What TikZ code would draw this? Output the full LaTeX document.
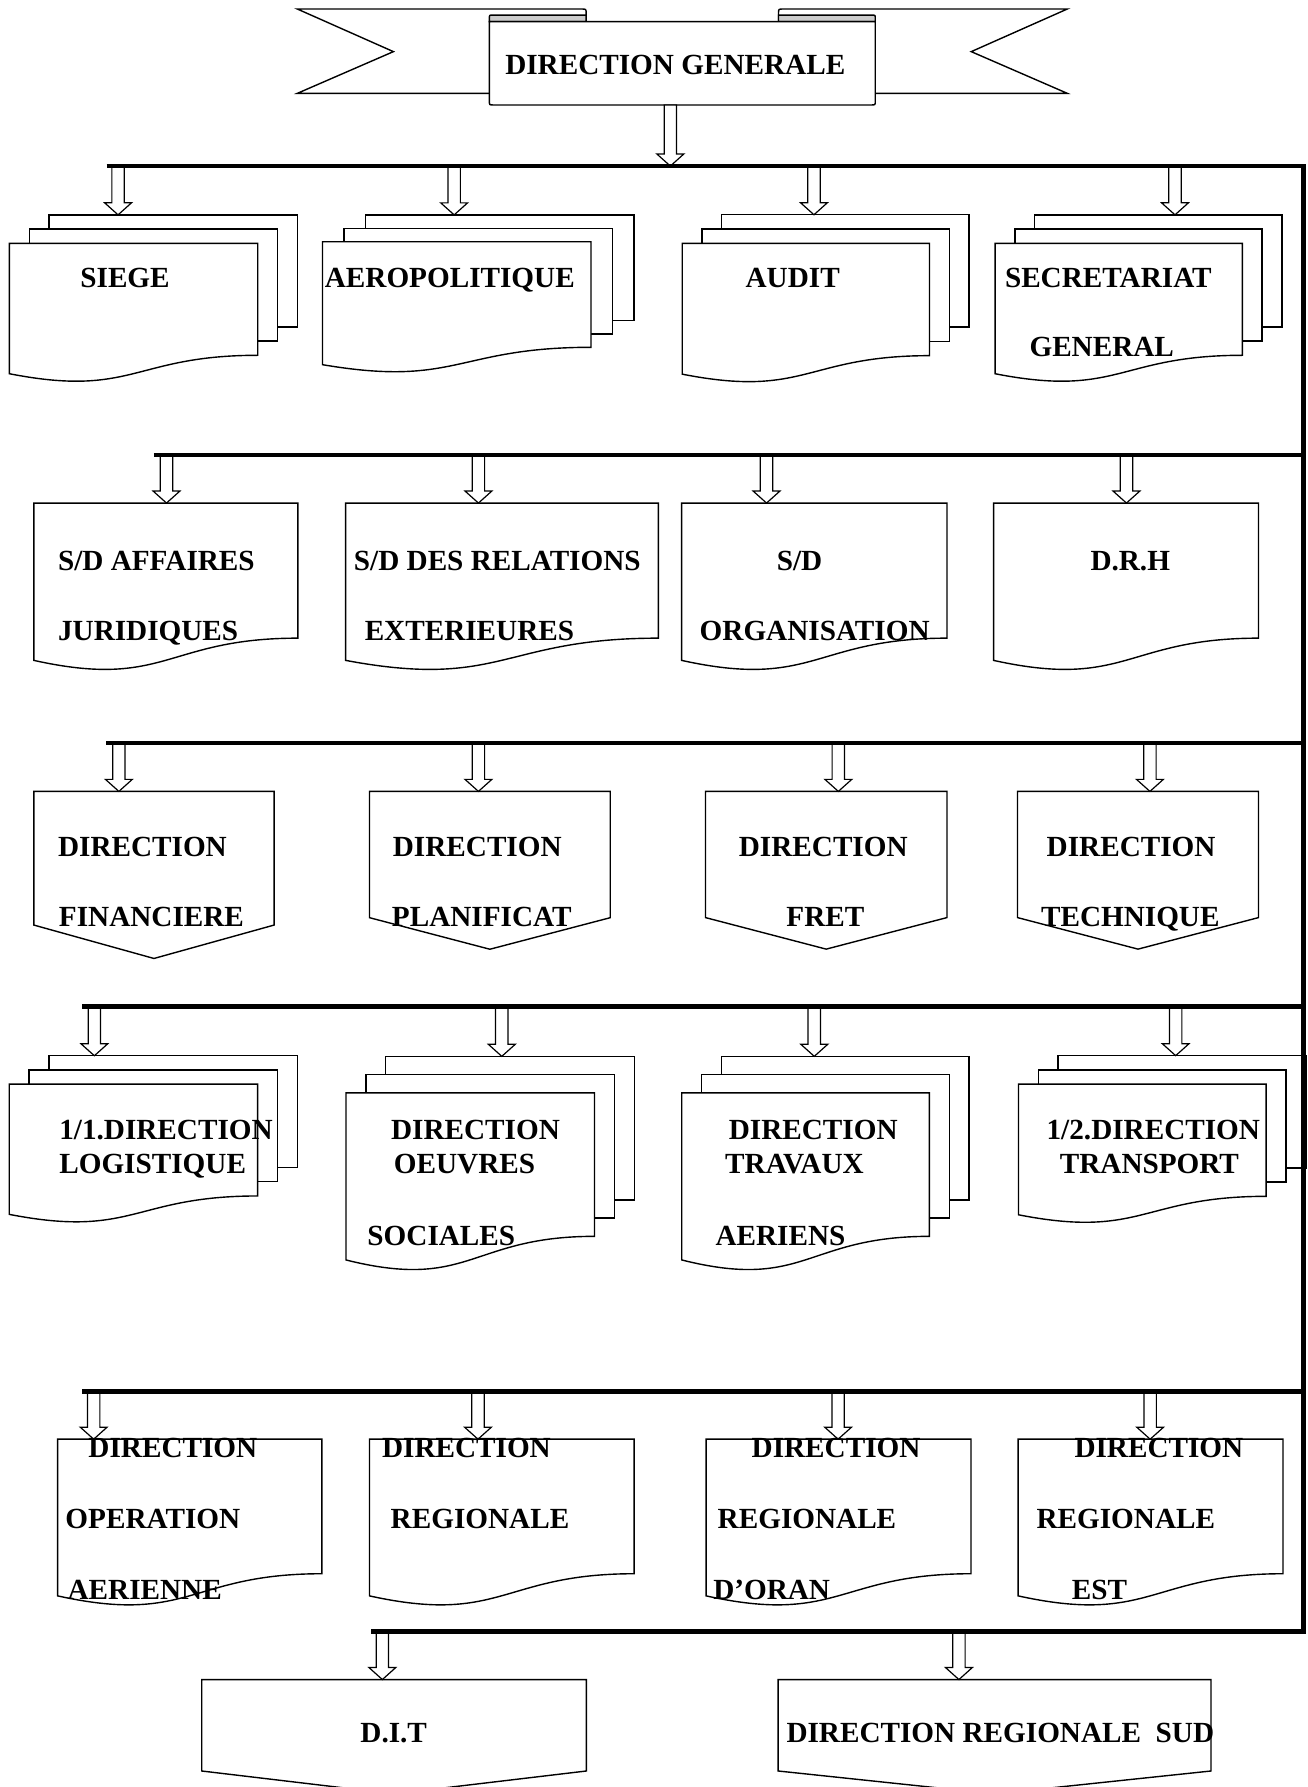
\documentclass[tikz,border=0pt]{standalone}
\usepackage{fontspec}
\setmainfont{Liberation Serif}
\usepackage{tikz}
\usetikzlibrary{positioning}
\usetikzlibrary{calc}
\tikzset{
  sheet/.style={draw, fill=white, line width=0.7pt},
  bus/.style={line width=2.3pt},
  lbl/.style={font=\bfseries\fontsize{14.6}{17}\selectfont, anchor=base west, inner sep=0pt},
  hollow/.style={draw, fill=white, line width=0.6pt,
    to path={let \p1=(\tikztostart), \p2=(\tikztotarget) in
      (\x2-3.1pt,\y1) -- (\x2-3.1pt,\y2+6pt) -- (\x2-6.7pt,\y2+6pt) -- (\x2,\y2)
      -- (\x2+6.7pt,\y2+6pt) -- (\x2+3.1pt,\y2+6pt) -- (\x2+3.1pt,\y1) -- cycle}},
  pics/docs/.style n args={3}{code={
    \draw[sheet] (0.16*#1,-0.204*#2) rectangle ++(#1,0.802*#2);
    \draw[sheet] (0.08*#1,-0.102*#2) rectangle ++(#1,0.802*#2);
    \draw[sheet] (0,0) -- (#1,0) -- (#1,0.802*#2) .. controls (0.5*#1,0.802*#2) and (0.5*#1,1.108*#2) .. (0,0.934*#2) -- cycle;
    \coordinate (-top) at (#3,-0.204*#2);
  }},
  pics/doc/.style n args={3}{code={
    \draw[sheet] (0,0) -- (#1,0) -- (#1,0.802*#2) .. controls (0.5*#1,0.802*#2) and (0.5*#1,1.108*#2) .. (0,0.934*#2) -- cycle;
    \coordinate (-top) at (#3,0);
  }},
  pics/offpage/.style n args={3}{code={
    \draw[sheet] (0,0) -- (#1,0) -- (#1,0.8*#2) -- (0.5*#1,#2) -- (0,0.8*#2) -- cycle;
    \coordinate (-top) at (#3,0);
  }},
}
\begin{document}
\begin{tikzpicture}[x=0.5697pt, y=-0.5697pt, line join=miter]
	\useasboundingbox (0,0) rectangle (1147,1568);

	\draw[sheet] (429.4,81.9) -- (260.9,81.9) -- (345.2,45.3) -- (260.9,7.9) -- (510.3,7.9) .. controls (514.3,7.9) .. (514.3,11.9) -- (514.3,81.9) -- cycle;
	\draw[sheet] (768,81.9) -- (936.5,81.9) -- (852.2,45.3) -- (936.5,7.9) -- (687.1,7.9) .. controls (683.1,7.9) .. (683.1,11.9) -- (683.1,81.9) -- cycle;
	\draw[sheet, fill=gray!40] (514.3,13.2) -- (432.4,13.2) .. controls (429.4,13.2) .. (429.4,16.2) -- (429.4,19) -- (514.3,19) -- cycle;
	\draw[sheet, fill=gray!40] (683.1,13.2) -- (765,13.2) .. controls (768,13.2) .. (768,16.2) -- (768,19) -- (683.1,19) -- cycle;
	\draw[sheet] (429.4,19) -- (429.4,88.6) .. controls (429.4,92.1) .. (432.9,92.1) -- (764.5,92.1) .. controls (768,92.1) .. (768,88.6) -- (768,19) -- cycle;
	\node[lbl] (dg) at (443,65) {DIRECTION GENERALE};
	\coordinate (dg-out) at (588.2,92.1);

	\pic (siege) at (8.2,213.5) {docs={218}{122.5}{95.4}};
	\pic (aero) at (283,212.1) {docs={235.6}{115.5}{115.5}};
	\pic (audit) at (598.6,213.5) {docs={217}{122.9}{115.6}};
	\pic (secr) at (873.1,213.5) {docs={217}{122.5}{157.9}};

	\pic (juri) at (29.7,441.4) {doc={231.7}{147.8}{116.4}};
	\pic (relext) at (303.3,441.4) {doc={274.4}{147.8}{116.5}};
	\pic (orga) at (598.1,441.4) {doc={232.8}{147.8}{74.5}};
	\pic (drh) at (871.8,441.4) {doc={232.5}{147.8}{116.6}};

	\pic (finan) at (29.7,694.4) {offpage={210.8}{146.6}{74.6}};
	\pic (planif) at (324.2,694.4) {offpage={211.3}{138.5}{95.6}};
	\pic (fret) at (619,694.4) {offpage={211.9}{138.4}{116.6}};
	\pic (techn) at (892.8,694.4) {offpage={211.5}{138.4}{116.2}};

	\pic (logi) at (8.1,951.3) {docs={218}{122.3}{74.7}};
	\pic (oeuvres) at (303.6,958.9) {docs={218}{157}{136.7}};
	\pic (travaux) at (598.2,958.9) {docs={217.3}{157}{116.3}};
	\pic (transport) at (893.7,951.3) {docs={217.3}{122.7}{137.9}};

	\pic (opaer) at (50.6,1262.8) {doc={231.8}{147.2}{31.6}};
	\pic (regio) at (324.2,1262.8) {doc={232.2}{147.2}{95.2}};
	\pic (oran) at (619.6,1262.8) {doc={232.4}{147.2}{115.8}};
	\pic (est) at (893.4,1262.8) {doc={232.4}{147.2}{115.8}};

	\pic (dit) at (177,1473.7) {offpage={337.5}{100.3}{158.5}};
	\pic (sud) at (682.8,1473.7) {offpage={379.8}{100.3}{158.6}};

	\foreach \k/\y/\x in {1/145.7/93.6, 2/399.3/135.1, 3/652/93.2, 4/883.4/72, 5/1220.7/72.3, 6/1431.5/325.4} {
		\coordinate (bus\k-l) at (\x,\y);
		\coordinate (bus\k-r) at (1143.6,\y);
	}

	\draw[hollow] (dg-out) to (dg-out |- bus1-l);
	\foreach \b in {siege,aero,audit,secr} \draw[hollow] (bus1-l) to (\b-top);
	\foreach \b in {juri,relext,orga,drh} \draw[hollow] (bus2-l) to (\b-top);
	\foreach \b in {finan,planif,fret,techn} \draw[hollow] (bus3-l) to (\b-top);
	\foreach \b in {logi,oeuvres,travaux,transport} \draw[hollow] (bus4-l) to (\b-top);
	\foreach \b in {opaer,regio,oran,est} \draw[hollow] (bus5-l) to (\b-top);
	\foreach \b in {dit,sud} \draw[hollow] (bus6-l) to (\b-top);

	\draw[bus] (bus1-l) -- (bus1-r) -- (bus6-r) -- (bus6-l);
	\foreach \k in {2,...,5} \draw[bus] (bus\k-l) -- (bus\k-r);

	\node[lbl] (siege-t) at (70.2,252) {SIEGE};
	\node[lbl] (aero-t) at (284.7,252) {AEROPOLITIQUE};
	\node[lbl] (audit-t) at (653.9,252) {AUDIT};
	\node[lbl] (secr-t1) at (881.5,252) {SECRETARIAT};
	\node[lbl] (secr-t2) at (903,313) {GENERAL};

	\node[lbl] (juri-t1) at (50.6,501) {S/D AFFAIRES};
	\node[lbl] (juri-t2) at (50.6,562) {JURIDIQUES};
	\node[lbl] (relext-t1) at (310.2,501) {S/D DES RELATIONS};
	\node[lbl] (relext-t2) at (319.7,562) {EXTERIEURES};
	\node[lbl] (orga-t1) at (681.3,501) {S/D};
	\node[lbl] (orga-t2) at (613.6,562) {ORGANISATION};
	\node[lbl] (drh-t) at (956.5,501) {D.R.H};

	\node[lbl] (finan-t1) at (50.6,751.2) {DIRECTION};
	\node[lbl] (finan-t2) at (51.4,813.2) {FINANCIERE};
	\node[lbl] (planif-t1) at (344.4,751.2) {DIRECTION};
	\node[lbl] (planif-t2) at (343.6,813.2) {PLANIFICAT};
	\node[lbl] (fret-t1) at (648,751.2) {DIRECTION};
	\node[lbl] (fret-t2) at (689.7,813.2) {FRET};
	\node[lbl] (techn-t1) at (918.1,751.2) {DIRECTION};
	\node[lbl] (techn-t2) at (913.1,813.2) {TECHNIQUE};

	\node[lbl] (logi-t1) at (51.7,999.5) {1/1.DIRECTION};
	\node[lbl] (logi-t2) at (51.7,1029.7) {LOGISTIQUE};
	\node[lbl] (oeuvres-t1) at (342.8,999.5) {DIRECTION};
	\node[lbl] (oeuvres-t2) at (345.3,1029.7) {OEUVRES};
	\node[lbl] (oeuvres-t3) at (322.1,1092.6) {SOCIALES};
	\node[lbl] (travaux-t1) at (639.2,999.5) {DIRECTION};
	\node[lbl] (travaux-t2) at (636,1029.7) {TRAVAUX};
	\node[lbl] (travaux-t3) at (627.5,1092.6) {AERIENS};
	\node[lbl] (transport-t1) at (918,999.5) {1/2.DIRECTION};
	\node[lbl] (transport-t2) at (929.6,1029.7) {TRANSPORT};

	\node[lbl] (opaer-t1) at (77.3,1279.2) {DIRECTION};
	\node[lbl] (opaer-t2) at (57.1,1341.2) {OPERATION};
	\node[lbl] (opaer-t3) at (59,1403.5) {AERIENNE};
	\node[lbl] (regio-t1) at (334.9,1279.2) {DIRECTION};
	\node[lbl] (regio-t2) at (342.5,1341.2) {REGIONALE};
	\node[lbl] (oran-t1) at (659.2,1279.2) {DIRECTION};
	\node[lbl] (oran-t2) at (629.4,1341.2) {REGIONALE};
	\node[lbl] (oran-t3) at (625.5,1403.5) {D’ORAN};
	\node[lbl] (est-t1) at (942.5,1279.2) {DIRECTION};
	\node[lbl] (est-t2) at (909.2,1341.2) {REGIONALE};
	\node[lbl] (est-t3) at (940.1,1403.5) {EST};

	\node[lbl] (dit-t) at (315.9,1528.5) {D.I.T};
	\node[lbl] (sud-t) at (689.8,1528.5) {DIRECTION REGIONALE~~SUD};
\end{tikzpicture}
\end{document}
